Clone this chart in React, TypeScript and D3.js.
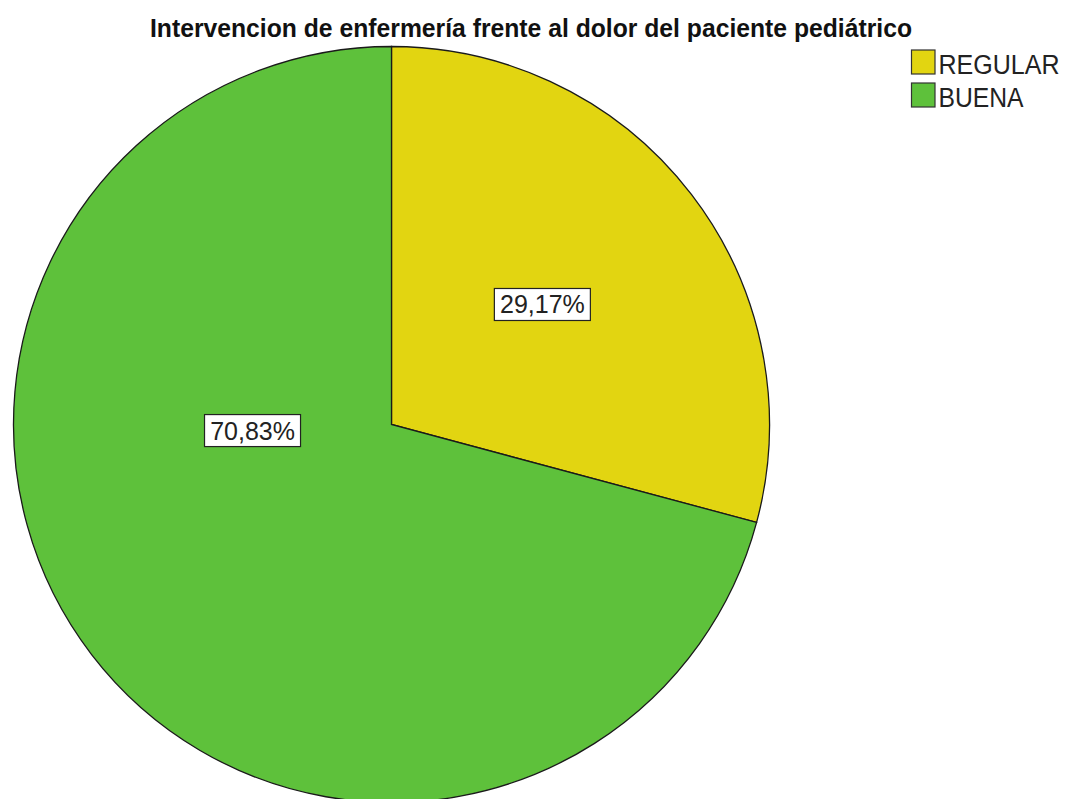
import React from "react";
import * as d3 from "d3";

const categories = ["REGULAR", "BUENA"];
const values = [29.17, 70.83];
const valueLabels = ["29,17%", "70,83%"];
const colors = ["#e2d511", "#5ec13b"];

const W = 1068;
const H = 799;
const CX = 391.5;
const CY = 424.5;
const R = 378;
// label placement in polar form (angle in degrees clockwise from top, radius as fraction of R)
const labelPolar = [
  { angle: 51.5, frac: 0.51 },
  { angle: 267.5, frac: 0.368 },
];

export default function App() {
  const pie = d3.pie<number>().sort(null).value((d) => d);
  const arcs = pie(values);
  const arc = d3.arc<d3.PieArcDatum<number>>().innerRadius(0).outerRadius(R);

  return (
    <svg
      width={W}
      height={H}
      style={{ position: "absolute", left: 0, top: 0, background: "#fff" }}
      fontFamily="'Liberation Sans', Arial, sans-serif"
    >
      <rect x={0} y={0} width={W} height={H} fill="#fff" />
      <text
        x={531}
        y={36.5}
        textAnchor="middle"
        fontSize={25.5}
        fontWeight="bold"
        fill="#111"
        textLength={762}
        lengthAdjust="spacingAndGlyphs"
      >
        Intervencion de enfermería frente al dolor del paciente pediátrico
      </text>
      <g transform={`translate(${CX},${CY})`}>
        {arcs.map((a, i) => (
          <path key={i} d={arc(a) || ""} fill={colors[i]} stroke="#1a1a1a" strokeWidth={1.3} />
        ))}
        {arcs.map((a, i) => {
          const ang = (labelPolar[i].angle * Math.PI) / 180;
          const r = labelPolar[i].frac * R;
          const x = Math.sin(ang) * r;
          const y = -Math.cos(ang) * r;
          return (
            <g key={"l" + i} transform={`translate(${x},${y})`}>
              <rect x={-48} y={-16} width={96} height={32} fill="#fff" stroke="#222" strokeWidth={1.2} />
              <text x={0} y={9} textAnchor="middle" fontSize={25} fill="#222">
                {valueLabels[i]}
              </text>
            </g>
          );
        })}
      </g>
      <g>
        {categories.map((c, i) => (
          <g key={c} transform={`translate(911.5,${50 + i * 33})`}>
            <rect x={0} y={0} width={23.5} height={24} fill={colors[i]} stroke="#333" strokeWidth={1.2} />
            <text
              x={27}
              y={24}
              fontSize={27}
              fill="#222"
              textLength={c === "REGULAR" ? 121 : 85}
              lengthAdjust="spacingAndGlyphs"
            >
              {c}
            </text>
          </g>
        ))}
      </g>
    </svg>
  );
}
